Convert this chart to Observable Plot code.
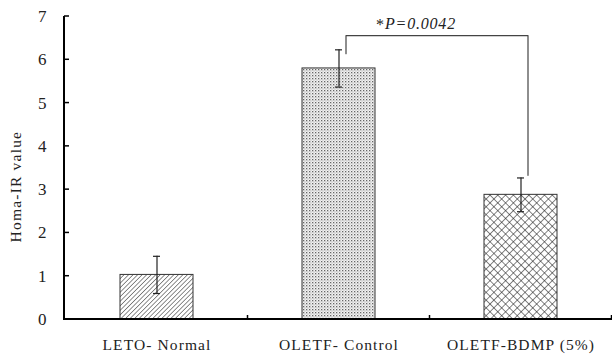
<!DOCTYPE html>
<html>
<head>
<meta charset="utf-8">
<script src="https://cdn.jsdelivr.net/npm/d3@7"></script>
<script src="https://cdn.jsdelivr.net/npm/@observablehq/plot@0.6"></script>
<style>
  html, body { margin: 0; padding: 0; background: #fff; }
  #chart svg g[aria-label="x-axis tick label"] text { letter-spacing: 1.1px; fill: #222; }
</style>
</head>
<body>
<div id="chart"></div>
<script>
// ---- data ----
const categories = ["LETO- Normal", "OLETF- Control", "OLETF-BDMP (5%)"];
const means = [1.03, 5.8, 2.88];
const errors = [0.43, 0.43, 0.39];
const yTicks = [0, 1, 2, 3, 4, 5, 6, 7];
const yLabel = "Homa-IR value";
const yLabelAt = 3.07;
// significance bracket: [category, y] points
const bracketPoints = [
  [categories[1], 6.14], [categories[1], 6.56],
  [categories[2], 6.56], [categories[2], 3.33]
];
const pStar = "*";
const pText = "P=0.0042";
const pY = 6.84;

// ---- styles (not data) ----
const fills = ["url(#hatch)", "url(#dots)", "url(#cross)"];

const rows = categories.map((c, i) => ({cat: c, v: means[i], e: errors[i], i}));
const bracket = bracketPoints.map(([x, y]) => ({x, y}));

const plot = Plot.plot({
  width: 612,
  height: 354,
  marginLeft: 64,
  marginRight: 0,
  marginTop: 16,
  marginBottom: 35,
  style: {fontFamily: "'Liberation Serif', 'Times New Roman', serif", fontSize: "15.5px", background: "#fff", color: "#000"},
  x: {domain: categories, paddingInner: 0.6, paddingOuter: 0.3, align: 0.5, label: null, tickSize: 0, tickPadding: 19},
  y: {domain: [0, 7], label: null},
  marks: [
    Plot.axisY({ticks: yTicks, tickFormat: d3.format("d"), tickSize: 0, tickPadding: 18, fontSize: 17, fill: "#222", label: null}),
    ...rows.map(r => Plot.barY([r], {x: "cat", y: "v", fill: fills[r.i], stroke: "#333", strokeWidth: 1})),
    Plot.ruleX(rows, {x: "cat", y1: d => d.v - d.e, y2: d => d.v + d.e, stroke: "#222", strokeWidth: 1.2}),
    Plot.tickY(rows, {x: "cat", y: d => d.v + d.e, stroke: "#222", strokeWidth: 1.2, insetLeft: 33, insetRight: 33}),
    Plot.tickY(rows, {x: "cat", y: d => d.v - d.e, stroke: "#222", strokeWidth: 1.2, insetLeft: 33, insetRight: 33}),
    Plot.line(bracket, {x: "x", y: "y", stroke: "#444", strokeWidth: 1.2, dx: 7}),
    Plot.text([pStar], {x: () => categories[1], y: () => pY, text: d => d, textAnchor: "end", dx: 45, dy: 1, fontSize: 16, fill: "#222"}),
    Plot.text([pText], {x: () => categories[1], y: () => pY, text: d => d, textAnchor: "start", dx: 46, fontSize: 16, fontStyle: "italic", fill: "#222"}),
    Plot.text([yLabel], {frameAnchor: "left", y: () => yLabelAt, text: d => d, textAnchor: "middle", rotate: -90, dx: -48, fontSize: 15.5, fill: "#222"})
  ]
});

// pattern definitions
const svg = d3.select(plot);
svg.selectAll("text").filter(function() { return this.textContent === pText; }).style("letter-spacing", "0.8px");
svg.selectAll("text").filter(function() { return this.textContent === yLabel; }).style("letter-spacing", "1.2px");
const defs = svg.insert("defs", ":first-child");
const h = defs.append("pattern").attr("id", "hatch").attr("patternUnits", "userSpaceOnUse")
  .attr("width", 3.2).attr("height", 3.2).attr("patternTransform", "rotate(45)");
h.append("rect").attr("width", 3.2).attr("height", 3.2).attr("fill", "#fff");
h.append("line").attr("x1", 0).attr("y1", 0).attr("x2", 0).attr("y2", 3.2).attr("stroke", "#333").attr("stroke-width", 1.1);
const dp = defs.append("pattern").attr("id", "dots").attr("patternUnits", "userSpaceOnUse")
  .attr("width", 3).attr("height", 3);
dp.append("rect").attr("width", 3).attr("height", 3).attr("fill", "#f2f2f2");
dp.append("rect").attr("x", 0).attr("y", 0).attr("width", 1.3).attr("height", 1.3).attr("fill", "#666");
dp.append("rect").attr("x", 1.5).attr("y", 1.5).attr("width", 1.0).attr("height", 1.0).attr("fill", "#999");
const cp = defs.append("pattern").attr("id", "cross").attr("patternUnits", "userSpaceOnUse")
  .attr("width", 5.5).attr("height", 5.5).attr("patternTransform", "rotate(45)");
cp.append("rect").attr("width", 5.5).attr("height", 5.5).attr("fill", "#fff");
cp.append("line").attr("x1", 0).attr("y1", 0).attr("x2", 0).attr("y2", 5.5).attr("stroke", "#222").attr("stroke-width", 1.1);
cp.append("line").attr("x1", 0).attr("y1", 0).attr("x2", 5.5).attr("y2", 0).attr("stroke", "#222").attr("stroke-width", 1.1);

// axis lines and inward ticks drawn from the plot's own scales
const xs = plot.scale("x"), ys = plot.scale("y");
const x0 = 64, x1 = 612;
const yb = ys.apply(0), yt = ys.apply(7);
const ax = svg.append("g").attr("stroke", "#000");
ax.append("line").attr("x1", x0).attr("x2", x0).attr("y1", yt).attr("y2", yb + 1).attr("stroke-width", 2);
ax.append("line").attr("x1", x0).attr("x2", x1).attr("y1", yb).attr("y2", yb).attr("stroke-width", 2);
yTicks.forEach(t => {
  const y = ys.apply(t);
  ax.append("line").attr("x1", x0).attr("x2", x0 + 5).attr("y1", y).attr("y2", y).attr("stroke-width", 1.5);
});
const step = xs.step;
categories.forEach(c => {
  const bx = xs.apply(c) + xs.bandwidth + (step - xs.bandwidth) / 2;
  ax.append("line").attr("x1", bx).attr("x2", bx).attr("y1", yb).attr("y2", yb - 4).attr("stroke-width", 1.5);
});

document.getElementById("chart").appendChild(plot);
</script>
</body>
</html>
